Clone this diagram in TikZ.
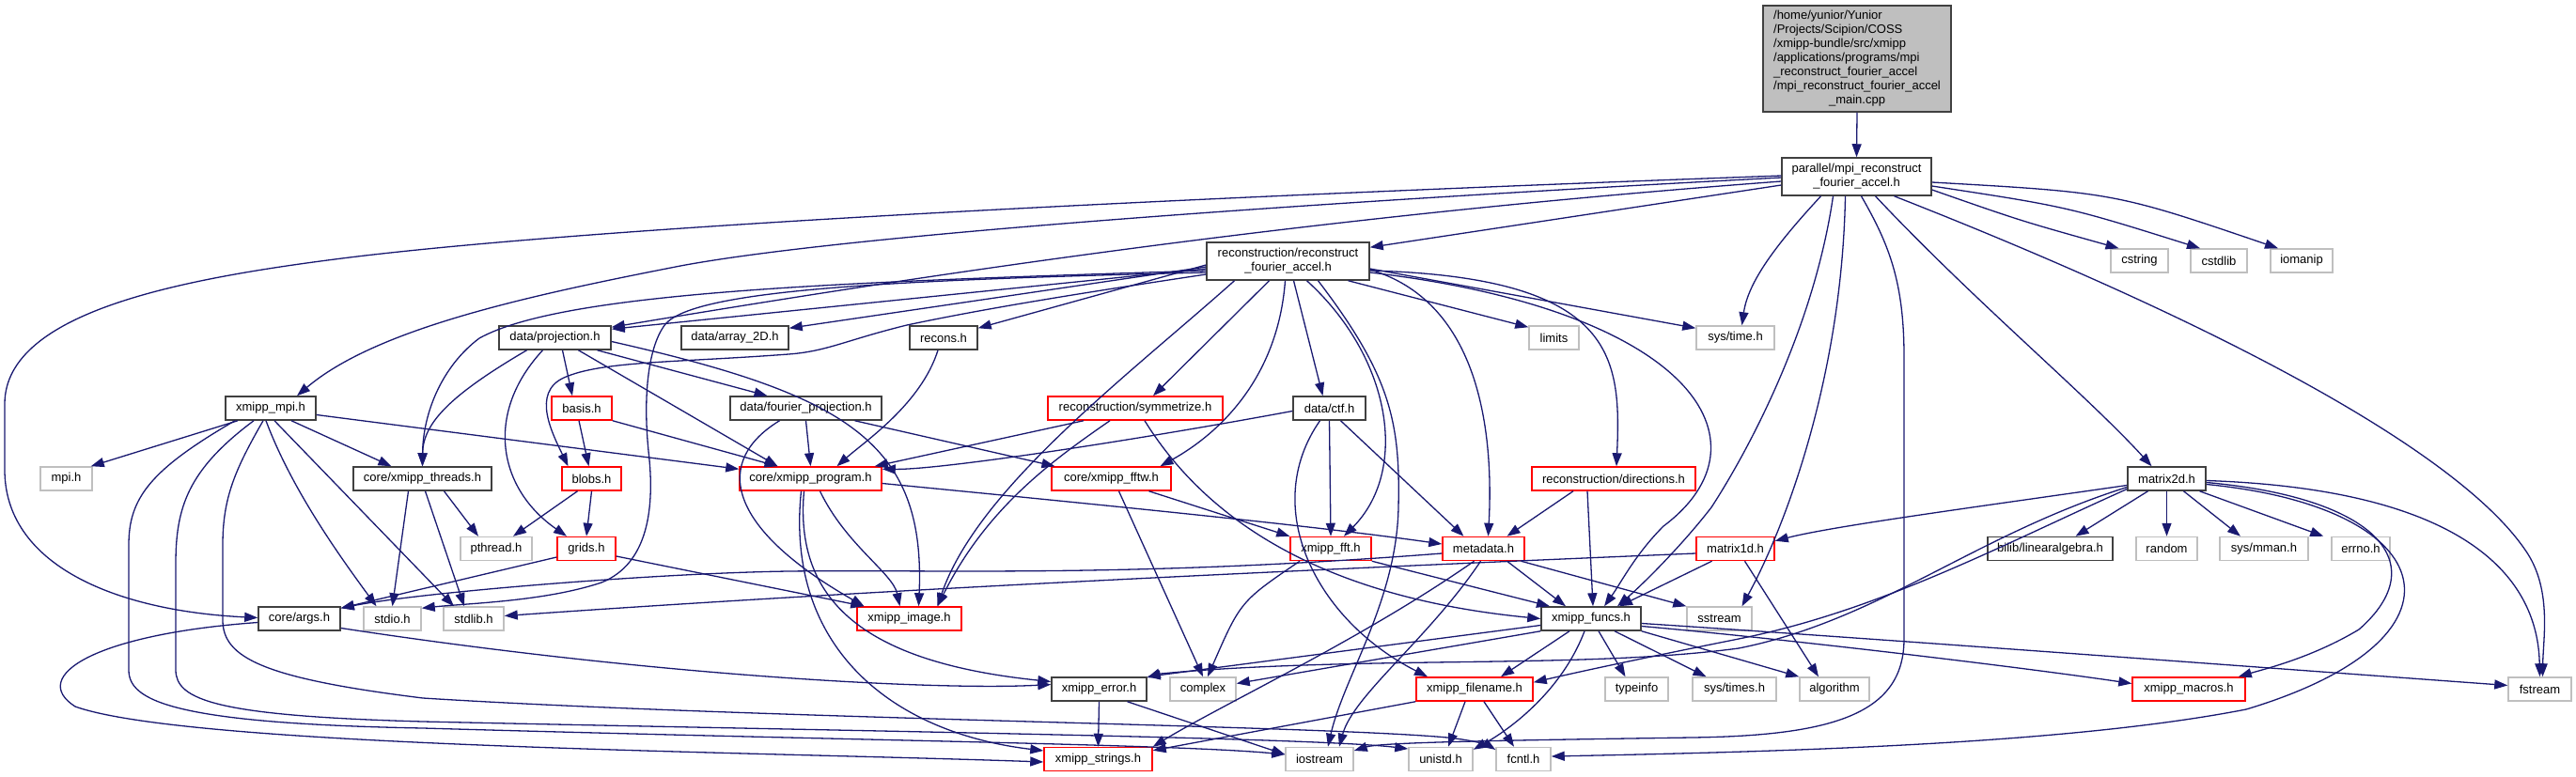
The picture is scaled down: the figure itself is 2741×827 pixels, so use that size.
\documentclass[tikz,border=0pt]{standalone}
\usepackage{fontspec}
\setmainfont{Liberation Sans}
\usetikzlibrary{arrows.meta}
\definecolor{edgec}{HTML}{191970}
\definecolor{boxgray}{HTML}{BFBFBF}
\definecolor{boxdark}{HTML}{404040}
\definecolor{boxred}{HTML}{FF0000}
\begin{document}
\begin{tikzpicture}[x=1pt,y=-1pt,
  box/.style={rectangle, fill=white, font=\fontsize{13}{15}\selectfont, inner sep=0pt, minimum height=25pt, line width=1.5pt, align=center},
  nb/.style={box, draw=boxdark},
  nr/.style={box, draw=boxred},
  ng/.style={box, draw=boxgray},
  e/.style={draw=edgec, line width=1.3pt, -{Triangle[length=14pt,width=10pt]}},
]
\useasboundingbox (0,0) rectangle (2741,827);
% ---------------- nodes ----------------
\node[nb, fill=boxgray, minimum width=200pt, minimum height=113pt] (main) at (1976,62.5) {\begin{tabular}{@{}l@{}}/home/yunior/Yunior\\/Projects/Scipion/COSS\\/xmipp-bundle/src/xmipp\\/applications/programs/mpi\\\_reconstruct\_fourier\_accel\\/mpi\_reconstruct\_fourier\_accel\\\multicolumn{1}{@{}c@{}}{\_main.cpp}\end{tabular}};
\node[nb, minimum width=159pt, minimum height=40pt] (P) at (1975.5,188) {parallel/mpi\_reconstruct\\\_fourier\_accel.h};
\node[nb, minimum width=173pt, minimum height=40pt] (R) at (1370.5,278) {reconstruction/reconstruct\\\_fourier\_accel.h};
\node[ng, minimum width=61pt] (cstring) at (2276.5,277.5) {cstring};
\node[ng, minimum width=60pt] (cstdlib) at (2361,277.5) {cstdlib};
\node[ng, minimum width=66pt] (iomanip) at (2449,277.5) {iomanip};
% rank 3
\node[nb, minimum width=119pt] (proj) at (590.5,359.5) {data/projection.h};
\node[nb, minimum width=114pt] (arr) at (782,359.5) {data/array\_2D.h};
\node[nb, minimum width=72pt] (recons) at (1004,359.5) {recons.h};
\node[ng, minimum width=53pt] (limits) at (1653.5,359.5) {limits};
\node[ng, minimum width=83pt] (systime) at (1846.5,359.5) {sys/time.h};
% rank 4
\node[nb, minimum width=96pt] (mpi) at (288,434.5) {xmipp\_mpi.h};
\node[nr, minimum width=64pt] (basis) at (619,434.5) {basis.h};
\node[nb, minimum width=161pt] (fproj) at (857.5,434.5) {data/fourier\_projection.h};
\node[nr, minimum width=186pt] (sym) at (1208,434.5) {reconstruction/symmetrize.h};
\node[nb, minimum width=77pt] (ctf) at (1414.5,434.5) {data/ctf.h};
% rank 5
\node[ng, minimum width=55pt] (mpih) at (70.5,509.5) {mpi.h};
\node[nb, minimum width=147pt] (thr) at (449.5,509.5) {core/xmipp\_threads.h};
\node[nr, minimum width=63pt] (blobs) at (629.5,509.5) {blobs.h};
\node[nr, minimum width=151pt] (prog) at (862.5,509.5) {core/xmipp\_program.h};
\node[nr, minimum width=127pt] (fftw) at (1182.5,509.5) {core/xmipp\_fftw.h};
\node[nr, minimum width=174pt] (dirs) at (1717,509.5) {reconstruction/directions.h};
\node[nb, minimum width=83pt] (m2d) at (2305.5,509.5) {matrix2d.h};
% rank 6
\node[ng, minimum width=76pt] (pthr) at (528,584) {pthread.h};
\node[nr, minimum width=62pt] (grids) at (624,584) {grids.h};
\node[nr, minimum width=86pt] (fft) at (1416,584) {xmipp\_fft.h};
\node[nr, minimum width=87pt] (meta) at (1578.5,584) {metadata.h};
\node[nr, minimum width=83pt] (m1d) at (1846.5,584) {matrix1d.h};
\node[nb, minimum width=133pt] (linalg) at (2181.5,584) {bilib/linearalgebra.h};
\node[ng, minimum width=65pt] (random) at (2305.5,584) {random};
\node[ng, minimum width=94pt] (mman) at (2409,584) {sys/mman.h};
\node[ng, minimum width=62pt] (errno) at (2512,584) {errno.h};
% rank 7
\node[nb, minimum width=87pt] (args) at (318.5,658.5) {core/args.h};
\node[ng, minimum width=61pt] (stdio) at (417.5,658.5) {stdio.h};
\node[ng, minimum width=64pt] (stdlib) at (504,658.5) {stdlib.h};
\node[nr, minimum width=111pt] (image) at (967.5,658.5) {xmipp\_image.h};
\node[nb, minimum width=106pt] (funcs) at (1693,658.5) {xmipp\_funcs.h};
\node[ng, minimum width=69pt] (sstream) at (1829.5,658.5) {sstream};
% rank 8
\node[nb, minimum width=101pt] (error) at (1169.5,733.5) {xmipp\_error.h};
\node[ng, minimum width=70pt] (complex) at (1280,733.5) {complex};
\node[nr, minimum width=124pt] (fname) at (1569,733.5) {xmipp\_filename.h};
\node[ng, minimum width=67pt] (typeinfo) at (1741.5,733.5) {typeinfo};
\node[ng, minimum width=89pt] (systimes) at (1845.5,733.5) {sys/times.h};
\node[ng, minimum width=74pt] (algo) at (1952,733.5) {algorithm};
\node[nr, minimum width=120pt] (macros) at (2329,733.5) {xmipp\_macros.h};
\node[ng, minimum width=67pt] (fstream) at (2702.5,733.5) {fstream};
% rank 9
\node[nr, minimum width=115pt] (strings) at (1168.5,808) {xmipp\_strings.h};
\node[ng, minimum width=72pt] (iostream) at (1404,808) {iostream};
\node[ng, minimum width=68pt] (unistd) at (1533,808) {unistd.h};
\node[ng, minimum width=58pt] (fcntl) at (1621,808) {fcntl.h};
% ---------------- edges ----------------
\draw[e] (main.south) -- (P.north);
% parallel
\draw[e] ([yshift=-9pt]P.west) -- ([yshift=-6pt]R.north east);
\draw[e] ([yshift=-5pt]P.west) .. controls (1400,230) and (1000,290) .. ([yshift=-2pt]proj.north east);
\draw[e] ([yshift=-1pt]P.west) .. controls (1400,215) and (900,250) .. (724,283) .. controls (560,315) and (400,350) .. ([xshift=28pt]mpi.north);
\draw[e] ([yshift=1pt]P.west) .. controls (1400,205) and (700,235) .. (380,273) .. controls (200,295) and (5,330) .. (5,430) -- (5,500) .. controls (5,600) and (120,650) .. ([yshift=1pt]args.west);
\draw[e] ([yshift=-14pt]P.east) .. controls (2150,235) .. ([xshift=-22pt]cstring.north);
\draw[e] ([yshift=-10pt]P.east) .. controls (2200,220) .. ([xshift=-20pt]cstdlib.north);
\draw[e] ([yshift=-6pt]P.east) .. controls (2250,205) .. ([xshift=-25pt]iomanip.north);
\draw[e] ([xshift=-38pt]P.south) .. controls (1890,260) and (1860,300) .. ([xshift=7pt]systime.north);
\draw[e] ([xshift=-25pt]P.south) .. controls (1930,350) and (1860,480) .. (1821,540) .. controls (1790,580) and (1750,620) .. ([xshift=28pt]funcs.north);
\draw[e] ([xshift=-12pt]P.south) .. controls (1960,400) and (1900,560) .. ([xshift=24pt]sstream.north);
\draw[e] ([xshift=5pt]P.south) .. controls (2010,260) and (2026,300) .. (2026,380) -- (2026,680) .. controls (2026,760) and (1950,783) .. (1800,785) .. controls (1600,788) and (1470,790) .. ([yshift=9pt]iostream.east);
\draw[e] ([xshift=20pt]P.south) .. controls (2100,320) and (2220,420) .. ([xshift=-16pt]m2d.north);
\draw[e] ([xshift=40pt]P.south) .. controls (2350,340) and (2620,480) .. (2690,590) .. controls (2715,630) and (2706,680) .. ([xshift=3pt]fstream.north);
% reconstruct
\draw[e] ([yshift=-4pt]R.west) -- ([yshift=-3pt]recons.north east);
\draw[e] ([yshift=-6pt]R.west) -- ([yshift=-3pt]arr.north east);
\draw[e] ([yshift=-8pt]R.west) -- ([yshift=-4pt]proj.north east);
\draw[e] ([yshift=-10pt]R.west) .. controls (900,300) and (600,310) .. (510,360) .. controls (470,390) and (450,440) .. (thr.north);
\draw[e] ([yshift=-12pt]R.west) .. controls (950,298) and (740,308) .. (708,345) .. controls (690,368) and (684,420) .. (690,480) .. controls (697,540) and (690,600) .. (640,620) .. controls (580,640) and (500,642) .. ([yshift=-2pt]stdio.north east);
\draw[e] ([yshift=-14pt]R.west) .. controls (1150,312) and (1050,328) .. (965,346) .. controls (900,362) and (880,374) .. (839,377) .. controls (720,386) and (640,384) .. (600,402) .. controls (565,418) and (588,462) .. ([xshift=-25pt]blobs.north);
\draw[e] ([xshift=-57pt]R.south) .. controls (1200,400) and (1040,520) .. ([xshift=30pt]image.north);
\draw[e] ([xshift=-20pt]R.south) -- ([xshift=19pt]sym.north);
\draw[e] ([xshift=-3pt]R.south) .. controls (1360,400) and (1300,460) .. ([xshift=52pt]fftw.north);
\draw[e] ([xshift=6pt]R.south) -- ([xshift=-7pt]ctf.north);
\draw[e] ([xshift=20pt]R.south) .. controls (1480,380) and (1500,500) .. ([xshift=14pt]fft.north);
\draw[e] ([xshift=32pt]R.south) .. controls (1480,400) and (1490,450) .. (1488,540) .. controls (1486,640) and (1430,720) .. ([xshift=9pt]iostream.north);
\draw[e] ([xshift=64pt]R.south) -- ([yshift=-2pt]limits.north west);
\draw[e] ([yshift=-9pt]R.east) .. controls (1570,320) and (1590,450) .. ([xshift=5pt]meta.north);
\draw[e] ([yshift=-8pt]R.east) -- ([yshift=-3pt]systime.north west);
\draw[e] ([yshift=-10pt]R.east) .. controls (1720,295) and (1725,380) .. ([xshift=3pt]dirs.north);
\draw[e] ([yshift=-12pt]R.east) .. controls (1800,330) and (1890,470) .. (1770,560) .. controls (1740,590) and (1725,620) .. ([xshift=14pt]funcs.north);
% xmipp_mpi
\draw[e] ([xshift=-35pt]mpi.south) -- ([xshift=-2pt]mpih.north east);
\draw[e] ([yshift=-7pt]mpi.east) -- ([yshift=-3pt]prog.north west);
\draw[e] ([xshift=22pt]mpi.south) -- ([xshift=-33pt]thr.north);
\draw[e] ([xshift=4pt]mpi.south) -- ([xshift=-21pt]stdlib.north);
\draw[e] ([xshift=-5pt]mpi.south) .. controls (310,520) and (360,590) .. ([xshift=-17pt]stdio.north);
\draw[e] ([xshift=-8pt]mpi.south) .. controls (250,500) and (237,530) .. (237,580) -- (237,660) .. controls (237,700) and (280,722) .. (450,743) .. controls (800,765) and (1400,772) .. (1540,785) .. controls (1570,788) and (1585,794) .. ([yshift=10pt]fcntl.west);
\draw[e] ([xshift=-18pt]mpi.south) .. controls (200,500) and (187,540) .. (187,600) -- (187,713) .. controls (187,745) and (230,762) .. (450,768) .. controls (900,778) and (1400,785) .. ([yshift=11pt]unistd.west);
\draw[e] ([xshift=-38pt]mpi.south) .. controls (160,500) and (137,530) .. (137,580) -- (137,713) .. controls (137,745) and (180,770) .. (450,775) .. controls (900,788) and (1250,792) .. ([yshift=5pt]iostream.west);
% threads
\draw[e] ([xshift=-15pt]thr.south) -- (stdio.north);
\draw[e] ([xshift=3pt]thr.south) -- ([xshift=-10pt]stdlib.north);
\draw[e] ([xshift=23pt]thr.south) -- ([xshift=-19pt]pthr.north);
% basis, blobs
\draw[e] ([xshift=-3pt]basis.south) -- ([xshift=-3pt]blobs.north);
\draw[e] (basis.south east) -- ([xshift=-35pt]prog.north);
\draw[e] ([xshift=-15pt]blobs.south) -- ([xshift=18pt]pthr.north);
\draw[e] (blobs.south) -- (grids.north);
% projection
\draw[e] ([xshift=-30pt]proj.south) .. controls (480,420) and (450,450) .. (thr.north);
\draw[e] ([xshift=-13pt]proj.south) .. controls (515,440) and (530,520) .. ([xshift=-21pt]grids.north);
\draw[e] ([xshift=8pt]proj.south) -- ([xshift=-10pt]basis.north);
\draw[e] ([xshift=25pt]proj.south) -- ([xshift=-35pt]prog.north);
\draw[e] ([xshift=45pt]proj.south) -- ([xshift=-41pt]fproj.north);
\draw[e] ([yshift=-4pt]proj.east) .. controls (900,420) and (985,470) .. ([xshift=10pt]image.north);
% fourier projection
\draw[e] (fproj.south) -- (prog.north);
\draw[e] ([xshift=-28pt]fproj.south) .. controls (760,490) and (770,560) .. ([xshift=-48pt]image.north);
\draw[e] ([xshift=52pt]fproj.south) -- ([xshift=-60pt]fftw.north);
% recons
\draw[e] ([xshift=-6pt]recons.south) .. controls (980,430) and (920,470) .. ([xshift=28pt]prog.north);
% symmetrize
\draw[e] ([xshift=-55pt]sym.south) -- ([xshift=-8pt]prog.north east);
\draw[e] ([xshift=-27pt]sym.south) .. controls (1120,490) and (1050,540) .. ([xshift=30pt]image.north);
\draw[e] ([xshift=10pt]sym.south) .. controls (1300,580) and (1450,640) .. (funcs.west);
% ctf
\draw[e] ([yshift=-3pt]ctf.west) .. controls (1200,470) and (1000,500) .. ([yshift=-3pt]prog.north east);
\draw[e] ([xshift=-10pt]ctf.south) .. controls (1340,540) and (1400,660) .. ([xshift=-50pt]fname.north);
\draw[e] (ctf.south) -- (fft.north);
\draw[e] ([xshift=12pt]ctf.south) -- ([xshift=-21pt]meta.north);
% fftw
\draw[e] ([xshift=8pt]fftw.south) -- (complex.north);
\draw[e] ([xshift=40pt]fftw.south) -- (fft.north west);
% directions
\draw[e] ([xshift=-43pt]dirs.south) -- ([xshift=25pt]meta.north);
\draw[e] ([xshift=-28pt]dirs.south) -- ([xshift=2pt]funcs.north);
% fft
\draw[e] ([xshift=-33pt]fft.south) .. controls (1320,640) .. ([xshift=5pt]complex.north);
\draw[e] (fft.south east) -- ([xshift=-44pt]funcs.north);
% metadata
\draw[e] ([xshift=-10pt]meta.south) .. controls (1450,680) and (1300,750) .. (strings.north east);
\draw[e] ([xshift=-3pt]meta.south) .. controls (1520,680) and (1440,740) .. ([xshift=21pt]iostream.north);
\draw[e] ([xshift=25pt]meta.south) -- ([xshift=-27pt]funcs.north);
\draw[e] ([xshift=40pt]meta.south) -- (sstream.north west);
\draw[e] ([yshift=-5pt]meta.west) .. controls (1200,615) and (1000,606) .. (839,608) .. controls (700,610) and (450,630) .. ([yshift=-2pt]args.north east);
% matrix1d
\draw[e] ([xshift=-25pt]m1d.south) -- ([xshift=30pt]funcs.north);
\draw[e] ([xshift=10pt]m1d.south) -- ([xshift=-17pt]algo.north);
\draw[e] ([yshift=-5pt]m1d.west) .. controls (1300,610) and (900,630) .. ([yshift=3pt]stdlib.east);
% matrix2d
\draw[e] ([yshift=-7pt]m2d.west) .. controls (2100,540) and (1950,560) .. ([yshift=-5pt]m1d.north east);
\draw[e] ([yshift=-9pt]m2d.west) .. controls (2100,570) and (2000,660) .. (1850,690) .. controls (1700,710) and (1500,700) .. (1300,712) .. controls (1250,715) and (1230,718) .. ([yshift=-1pt]error.north east);
\draw[e] ([yshift=-11pt]m2d.west) .. controls (2130,580) and (2000,650) .. (1850,680) .. controls (1750,700) and (1680,715) .. ([yshift=-6pt]fname.north east);
\draw[e] ([xshift=-20pt]m2d.south) -- ([xshift=27pt]linalg.north);
\draw[e] (m2d.south) -- (random.north);
\draw[e] ([xshift=18pt]m2d.south) -- ([xshift=-25pt]mman.north);
\draw[e] ([xshift=35pt]m2d.south) -- ([xshift=-8pt]errno.north west);
\draw[e] ([yshift=-4pt]m2d.east) .. controls (2530,530) and (2590,600) .. (2510,670) .. controls (2460,700) and (2410,712) .. ([xshift=-8pt]macros.north east);
\draw[e] ([yshift=-6pt]m2d.east) .. controls (2600,540) and (2640,680) .. (2390,755) .. controls (2200,792) and (1900,800) .. ([yshift=3pt]fcntl.east);
\draw[e] ([yshift=-2pt]m2d.east) .. controls (2600,520) and (2700,600) .. (fstream.north);
% funcs
\draw[e] ([yshift=-7pt]funcs.west) -- (error.north east);
\draw[e] (funcs.south west) -- ([yshift=6pt]complex.east);
\draw[e] ([xshift=-23pt]funcs.south) -- ([xshift=28pt]fname.north);
\draw[e] ([xshift=-7pt]funcs.south) .. controls (1660,740) and (1600,780) .. ([yshift=-3pt]unistd.north east);
\draw[e] ([xshift=8pt]funcs.south) -- ([xshift=-12pt]typeinfo.north);
\draw[e] ([xshift=25pt]funcs.south) -- ([xshift=-30pt]systimes.north);
\draw[e] (funcs.south east) -- (algo.north west);
\draw[e] ([yshift=-8pt]funcs.east) .. controls (1900,680) and (2150,710) .. ([yshift=6pt]macros.west);
\draw[e] ([yshift=-5pt]funcs.east) .. controls (2000,680) and (2400,710) .. ([yshift=4pt]fstream.west);
% error, filename
\draw[e] (error.south) -- (strings.north);
\draw[e] ([xshift=30pt]error.south) -- ([yshift=5pt]iostream.west);
\draw[e] (fname.south west) -- ([yshift=-4pt]strings.north east);
\draw[e] ([xshift=-10pt]fname.south) -- ([xshift=8pt]unistd.north);
\draw[e] ([xshift=10pt]fname.south) -- ([xshift=-10pt]fcntl.north);
% grids
\draw[e] ([yshift=-9pt]grids.west) -- ([yshift=-2pt]args.north east);
\draw[e] ([yshift=-8pt]grids.east) -- ([xshift=8pt]image.north west);
% args
\draw[e] ([yshift=-10pt]args.east) .. controls (700,720) and (1000,735) .. ([yshift=5pt]error.west);
\draw[e] ([yshift=-4pt]args.west) .. controls (100,675) and (30,720) .. (80,752) .. controls (200,795) and (800,800) .. ([yshift=-3pt]strings.west);
% program
\draw[e] ([xshift=10pt]prog.south) .. controls (900,580) and (950,610) .. ([xshift=-10pt]image.north);
\draw[e] ([yshift=-5pt]prog.east) .. controls (1200,540) and (1400,560) .. ([yshift=5pt]meta.west);
\draw[e] ([xshift=-7pt]prog.south) .. controls (845,640) and (920,705) .. ([yshift=8pt]error.west);
\draw[e] ([xshift=-10pt]prog.south) .. controls (835,690) and (950,780) .. ([yshift=9pt]strings.west);
\end{tikzpicture}
\end{document}
